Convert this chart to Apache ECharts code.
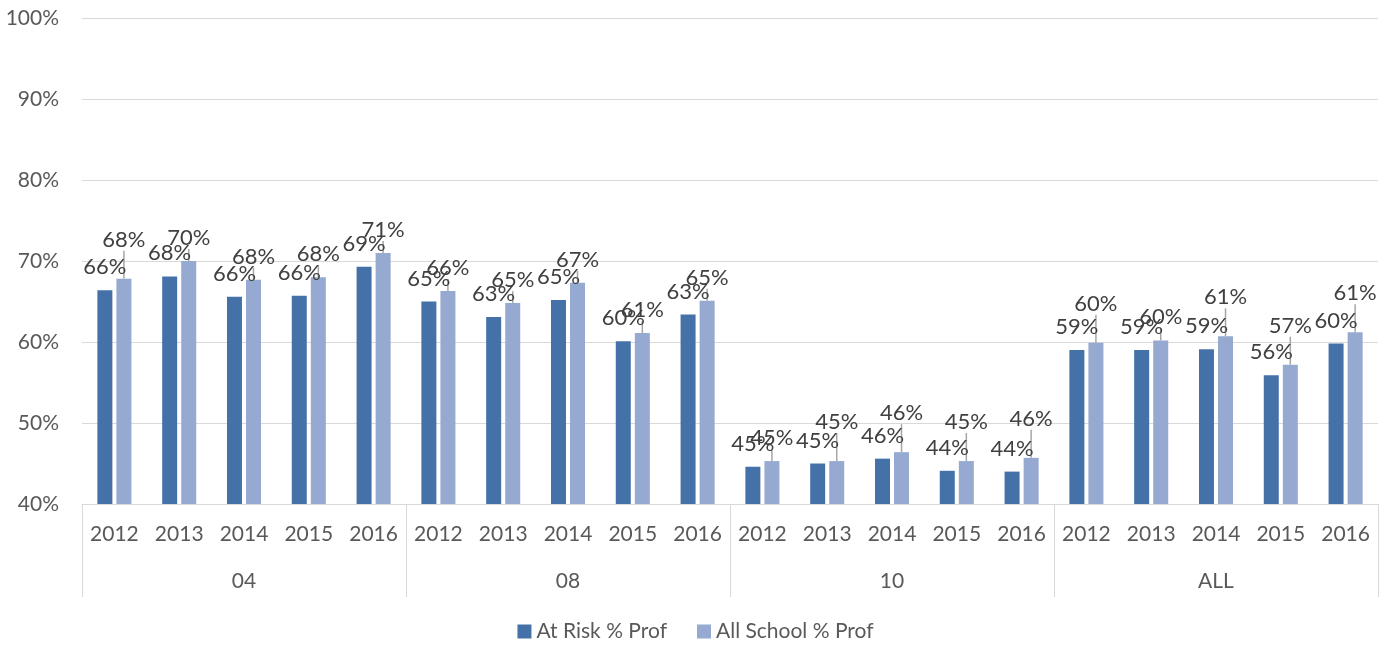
<!DOCTYPE html>
<html>
<head>
<meta charset="utf-8">
<script src="https://cdn.jsdelivr.net/npm/echarts@6/dist/echarts.min.js"></script>
<style>
  html, body { margin: 0; padding: 0; background: #fff; }
  #main { width: 1391px; height: 648px; }
</style>
</head>
<body>
<div id="main"></div>
<script>
// categories
const groups = ["04", "08", "10", "ALL"];
const years = ["2012", "2013", "2014", "2015", "2016"];
const yTicks = [40, 50, 60, 70, 80, 90, 100];

// series values (percent), one per group/year
const atRisk = [66.4, 68.1, 65.6, 65.7, 69.3, 65.0, 63.1, 65.2, 60.1, 63.4,
                44.6, 45.0, 45.6, 44.1, 44.0, 59.0, 59.0, 59.1, 55.9, 59.8];
const allSchool = [67.8, 70.0, 67.7, 68.0, 71.0, 66.3, 64.8, 67.3, 61.1, 65.1,
                   45.3, 45.3, 46.4, 45.3, 45.7, 59.9, 60.2, 60.7, 57.2, 61.2];

// all-school labels that Excel pushed up with a leader line
const liftedLabels = [0, 11, 12, 13, 14, 15, 17, 18, 19];

const yearCats = groups.flatMap(() => years);
const font = "Lato, 'Noto Sans', sans-serif";
const gray = "#d9d9d9";
const textGray = "#595959";

const chart = echarts.init(document.getElementById("main"));

const labelCfg = {
  show: true,
  position: "top",
  distance: 12,
  fontFamily: font,
  fontSize: 22,
  color: "#404040",
  formatter: (p) => Math.round(p.value) + "%",
};

chart.setOption({
  animation: false,
  textStyle: { fontFamily: font },
  grid: { left: 82, right: 13, top: 18, bottom: 144 },
  legend: {
    bottom: 1,
    left: "center",
    icon: "rect",
    itemWidth: 14,
    itemHeight: 14,
    itemGap: 30,
    textStyle: { fontFamily: font, fontSize: 21, color: textGray },
    data: ["At Risk % Prof", "All School % Prof"],
  },
  xAxis: [
    {
      type: "category",
      data: yearCats,
      position: "bottom",
      axisLine: { lineStyle: { color: gray, width: 1 } },
      axisTick: { show: false },
      axisLabel: { interval: 0, margin: 20, fontSize: 21, color: textGray, fontFamily: font },
    },
    {
      type: "category",
      data: groups,
      position: "bottom",
      axisLine: { show: false },
      axisTick: { show: true, length: 93, interval: 0, lineStyle: { color: gray, width: 1 } },
      axisLabel: { interval: 0, margin: 67, fontSize: 21, color: textGray, fontFamily: font },
    },
  ],
  yAxis: {
    type: "value",
    min: yTicks[0],
    max: yTicks[yTicks.length - 1],
    interval: 10,
    axisLine: { show: false },
    axisTick: { show: false },
    splitLine: { lineStyle: { color: gray, width: 1 } },
    axisLabel: { margin: 23, fontSize: 21, color: textGray, fontFamily: font, formatter: (v) => v + "%" },
  },
  series: [
    {
      name: "At Risk % Prof",
      type: "bar",
      xAxisIndex: 0,
      data: atRisk,
      barWidth: 15,
      barGap: "27%",
      itemStyle: { color: "#4472A8" },
      label: labelCfg,
    },
    {
      name: "All School % Prof",
      type: "bar",
      xAxisIndex: 0,
      data: allSchool,
      barWidth: 15,
      barGap: "27%",
      itemStyle: { color: "#95A9D1" },
      label: labelCfg,
      labelLayout: (p) => (liftedLabels.includes(p.dataIndex) ? { dy: -16 } : {}),
      labelLine: { show: true, lineStyle: { color: "#a6a6a6", width: 1.5 } },
    },
  ],
});
</script>
</body>
</html>
